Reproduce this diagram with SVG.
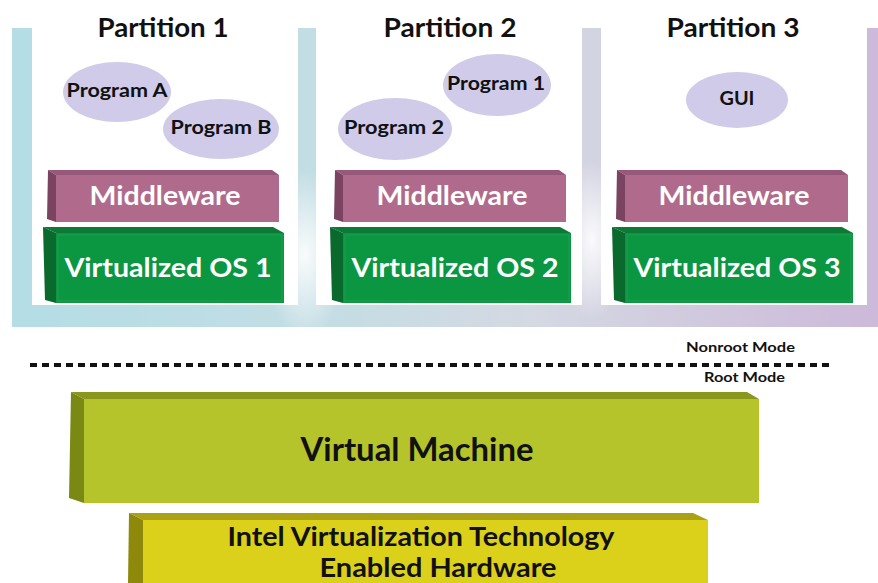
<svg xmlns="http://www.w3.org/2000/svg" width="878" height="583" viewBox="0 0 878 583">
<defs>
<linearGradient id="band" x1="0" y1="0" x2="1" y2="0">
<stop offset="0" stop-color="#b4dde5"/>
<stop offset="0.35" stop-color="#c3dde4"/>
<stop offset="0.6" stop-color="#d4d9e3"/>
<stop offset="1" stop-color="#cdb9d9"/>
</linearGradient>
<radialGradient id="glow" cx="0.5" cy="0.5" r="0.5">
<stop offset="0" stop-color="#ffffff" stop-opacity="0.9"/>
<stop offset="1" stop-color="#ffffff" stop-opacity="0"/>
</radialGradient>
<style>
.title{font-family:Lato,"Open Sans",sans-serif;font-weight:bold;font-size:26px;fill:#111;text-anchor:middle}
.prog{font-family:Lato,"Open Sans",sans-serif;font-weight:bold;font-size:18px;fill:#111;text-anchor:middle}
.ell{fill:#cfcbe8}
.mwF{fill:#b06b8c}.mwL{fill:#7a4460}.mwT{fill:#98587a}
.osF{fill:#0b9642}.osL{fill:#0a6a2e}.osT{fill:#0c7a36}
.wt{font-family:Lato,"Open Sans",sans-serif;font-weight:bold;font-size:27px;fill:#fff;text-anchor:middle}
.mode{font-family:Lato,"Open Sans",sans-serif;font-weight:bold;font-size:14px;fill:#111}
.big{font-family:Lato,"Open Sans",sans-serif;font-weight:bold;fill:#111;text-anchor:middle}
</style>
</defs>
<rect width="878" height="583" fill="#fff"/>
<g id="background">
<rect x="12" y="28" width="866" height="299" fill="url(#band)"/>
<ellipse cx="305" cy="255" rx="40" ry="85" fill="url(#glow)"/>
<ellipse cx="592" cy="240" rx="35" ry="80" fill="url(#glow)"/>
<rect x="32" y="28" width="266" height="277" fill="#fff"/>
<rect x="316" y="28" width="266" height="277" fill="#fff"/>
<rect x="601" y="28" width="266" height="277" fill="#fff"/>
</g>
<g id="partition1">
<text class="title" x="163" y="37" textLength="131" lengthAdjust="spacingAndGlyphs">Partition 1</text>
<g id="progA"><ellipse class="ell" cx="117" cy="92" rx="54" ry="30"/><text class="prog" x="117" y="97" textLength="101" lengthAdjust="spacingAndGlyphs">Program A</text></g>
<g id="progB"><ellipse class="ell" cx="221" cy="129" rx="58" ry="30"/><text class="prog" x="221" y="134" textLength="101" lengthAdjust="spacingAndGlyphs">Program B</text></g>
<g id="mw1">
<polygon class="mwT" points="48,170 272,170 279,175 56,175"/>
<polygon class="mwL" points="48,170 56,175 56,222 47,219"/>
<rect class="mwF" x="56" y="175" width="223" height="47"/>
<text class="wt" x="165" y="205" textLength="151" lengthAdjust="spacingAndGlyphs">Middleware</text>
</g>
<g id="os1">
<polygon class="osT" points="43,227 273,227 284,233 56,233"/>
<polygon class="osL" points="43,227 56,233 56,303 45,300"/>
<rect class="osF" x="56" y="233" width="228" height="70"/>
<rect x="58" y="235" width="224" height="66" fill="none" stroke="#2aa85a" stroke-width="1" opacity="0.6"/>
<text class="wt" x="168" y="277" textLength="207" lengthAdjust="spacingAndGlyphs">Virtualized OS 1</text>
</g>
</g>
<g id="partition2">
<text class="title" x="450" y="37" textLength="133" lengthAdjust="spacingAndGlyphs">Partition 2</text>
<g id="prog1"><ellipse class="ell" cx="497" cy="85" rx="54" ry="31"/><text class="prog" x="496" y="90" textLength="98" lengthAdjust="spacingAndGlyphs">Program 1</text></g>
<g id="prog2"><ellipse class="ell" cx="395" cy="129" rx="57" ry="31"/><text class="prog" x="394" y="134" textLength="100" lengthAdjust="spacingAndGlyphs">Program 2</text></g>
<g id="mw2" transform="translate(287,0)">
<polygon class="mwT" points="48,170 272,170 279,175 56,175"/>
<polygon class="mwL" points="48,170 56,175 56,222 47,219"/>
<rect class="mwF" x="56" y="175" width="223" height="47"/>
<text class="wt" x="165" y="205" textLength="151" lengthAdjust="spacingAndGlyphs">Middleware</text>
</g>
<g id="os2" transform="translate(287,0)">
<polygon class="osT" points="43,227 273,227 284,233 56,233"/>
<polygon class="osL" points="43,227 56,233 56,303 45,300"/>
<rect class="osF" x="56" y="233" width="228" height="70"/>
<rect x="58" y="235" width="224" height="66" fill="none" stroke="#2aa85a" stroke-width="1" opacity="0.6"/>
<text class="wt" x="168" y="277" textLength="207" lengthAdjust="spacingAndGlyphs">Virtualized OS 2</text>
</g>
</g>
<g id="partition3">
<text class="title" x="733" y="37" textLength="133" lengthAdjust="spacingAndGlyphs">Partition 3</text>
<g id="gui"><ellipse class="ell" cx="737" cy="100" rx="51" ry="28"/><text class="prog" x="737" y="105" textLength="35" lengthAdjust="spacingAndGlyphs">GUI</text></g>
<g id="mw3" transform="translate(569,0)">
<polygon class="mwT" points="48,170 272,170 279,175 56,175"/>
<polygon class="mwL" points="48,170 56,175 56,222 47,219"/>
<rect class="mwF" x="56" y="175" width="223" height="47"/>
<text class="wt" x="165" y="205" textLength="151" lengthAdjust="spacingAndGlyphs">Middleware</text>
</g>
<g id="os3" transform="translate(569,0)">
<polygon class="osT" points="43,227 273,227 284,233 56,233"/>
<polygon class="osL" points="43,227 56,233 56,303 45,300"/>
<rect class="osF" x="56" y="233" width="228" height="70"/>
<rect x="58" y="235" width="224" height="66" fill="none" stroke="#2aa85a" stroke-width="1" opacity="0.6"/>
<text class="wt" x="168" y="277" textLength="207" lengthAdjust="spacingAndGlyphs">Virtualized OS 3</text>
</g>
</g>
<g id="connectors">
<line x1="30" y1="365" x2="832" y2="365" stroke="#111" stroke-width="4" stroke-dasharray="7 5"/>
</g>
<g id="modes">
<text class="mode" x="686" y="352" textLength="109" lengthAdjust="spacingAndGlyphs">Nonroot Mode</text>
<text class="mode" x="704" y="382" textLength="81" lengthAdjust="spacingAndGlyphs">Root Mode</text>
</g>
<g id="vm">
<polygon points="71,392 747,392 759,399 84,399" fill="#8b961c"/>
<polygon points="71,392 84,399 84,503 69,498" fill="#7a8814"/>
<rect x="84" y="399" width="675" height="104" fill="#b5c42a"/>
<text class="big" x="417" y="461" font-size="32" textLength="233" lengthAdjust="spacingAndGlyphs">Virtual Machine</text>
</g>
<g id="hw">
<polygon points="129,513 693,513 708,520 143,520" fill="#aaa214"/>
<polygon points="129,513 143,520 143,583 128,583" fill="#8e890a"/>
<rect x="143" y="520" width="565" height="63" fill="#dbd01a"/>
<text class="big" x="421" y="546" font-size="27" textLength="387" lengthAdjust="spacingAndGlyphs">Intel Virtualization Technology</text>
<text class="big" x="438" y="577" font-size="27" textLength="237" lengthAdjust="spacingAndGlyphs">Enabled Hardware</text>
</g>
</svg>
